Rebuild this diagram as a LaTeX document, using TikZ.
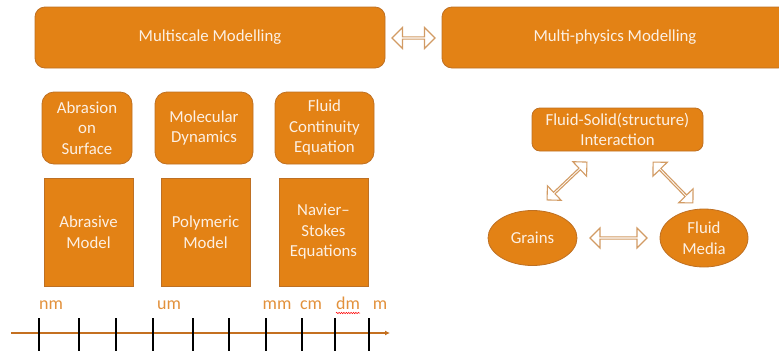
\documentclass[tikz,border=0pt]{standalone}
\usepackage{fontspec}
\setmainfont{Carlito}
\usetikzlibrary{shapes.geometric,shapes.arrows,decorations.pathmorphing,arrows.meta}
\definecolor{boxfill}{RGB}{227,130,21}
\definecolor{boxline}{RGB}{190,112,35}
\definecolor{boxtext}{RGB}{252,240,228}
\definecolor{unitcol}{RGB}{226,145,60}
\definecolor{axiscol}{RGB}{196,112,32}
\definecolor{arrline}{RGB}{210,155,100}
\tikzset{
  txt/.style={font=\fontsize{16.8}{20.5}\selectfont, text=boxtext, align=center},
  bigbox/.style={txt, draw=boxline, fill=boxfill, line width=0.8pt, rounded corners=10pt, inner sep=0pt},
  sqbox/.style={txt, draw=boxline, fill=boxfill, line width=0.8pt, inner sep=0pt},
  ellbox/.style={txt, ellipse, draw=boxline, fill=boxfill, line width=0.8pt, inner sep=0pt},
  blockarr/.style={double arrow, draw=arrline, fill=white, line width=1.1pt, inner sep=0pt,
     double arrow head extend=4.5pt, double arrow head indent=0pt},
  unit/.style={font=\fontsize{18}{20}\selectfont, text=unitcol, anchor=base, inner sep=0pt},
  tick/.style={line width=1.2pt, black}
}
\begin{document}
\begin{tikzpicture}[x=1pt,y=-1pt]
\useasboundingbox (0,0) rectangle (779,354);
% top boxes
\node[bigbox, minimum width=350pt, minimum height=61pt] (ms) at (210,37.5) {Multiscale Modelling};
\node[bigbox, minimum width=346pt, minimum height=61pt] (mp) at (615,37.5) {Multi-physics Modelling};
\node[blockarr, minimum height=43pt, minimum width=21pt] (a0) at (413.5,38) {};
% upper small boxes
\node[bigbox, rounded corners=12pt, minimum width=90pt, minimum height=72pt] (b1) at (87,128) {Abrasion\\on\\Surface};
\node[bigbox, rounded corners=12pt, minimum width=98pt, minimum height=72pt] (b2) at (204,128) {Molecular\\Dynamics};
\node[bigbox, rounded corners=12pt, minimum width=99pt, minimum height=72pt] (b3) at (324.5,128) {Fluid\\Continuity\\Equation};
% lower boxes
\node[sqbox, minimum width=89pt, minimum height=108pt] (c1) at (88.5,232) {Abrasive\\Model};
\node[sqbox, minimum width=89pt, minimum height=108pt] (c2) at (205.5,232) {Polymeric\\Model};
\node[sqbox, minimum width=89pt, minimum height=108pt] (c3) at (323.5,232) {Navier--\\Stokes\\Equations};
% right side
\node[bigbox, rounded corners=8pt, minimum width=171pt, minimum height=43pt] (fsi) at (617.5,129.5) {Fluid-Solid(structure)\\Interaction};
\node[ellbox, minimum width=89pt, minimum height=55pt] (gr) at (532.5,238) {Grains};
\node[ellbox, minimum width=88pt, minimum height=58pt] (fm) at (704,238) {Fluid\\Media};
\node[blockarr, minimum height=57pt, minimum width=20pt] (a1) at (618.5,238) {};
\node[blockarr, minimum height=55pt, minimum width=20pt, rotate=43.5] (a2) at (567,181) {};
\node[blockarr, minimum height=57pt, minimum width=20pt, rotate=-45.7] (a3) at (673,182.5) {};
% axis
\coordinate (ax0) at (11,333);
\coordinate (ax1) at (390,333);
\draw[axiscol, line width=1.8pt, -{Latex[length=5pt,width=5pt]}] (ax0) -- (ax1);
\foreach \x in {39,79,116,153,193,229,266,302,335,369}{
  \draw[tick] (\x,318) -- (\x,351);
}
\node[unit] (u1) at (51,309) {nm};
\node[unit] (u2) at (169,309) {um};
\node[unit] (u3) at (277,309) {mm};
\node[unit] (u4) at (311,309) {cm};
\node[unit] (u5) at (348,309) {dm};
\node[unit] (u6) at (380,309) {m};
\draw[red, line width=0.5pt, decorate, decoration={snake, amplitude=0.7pt, segment length=2.4pt}] (336,313) -- (360,313);
\end{tikzpicture}
\end{document}
